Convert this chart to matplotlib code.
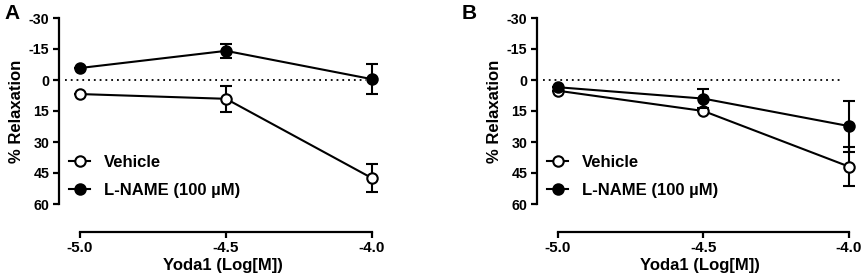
import matplotlib
matplotlib.use("Agg")
import matplotlib.pyplot as plt
from matplotlib.lines import Line2D
import numpy as np

plt.rcParams['font.family'] = ['Liberation Sans', 'DejaVu Sans']
plt.rcParams['font.weight'] = 'bold'
plt.rcParams['axes.unicode_minus'] = False

x = [-5.0, -4.5, -4.0]
xticklabels = ['-5.0', '-4.5', '-4.0']
yticks = [-30, -15, 0, 15, 30, 45, 60]
yticklabels = ['-30', '-15', '0', '15', '30', '45', '60']

# Panel A
a_vehicle = [6.8, 9.1, 47.5]
a_vehicle_err = [0.0, 6.3, 6.7]
a_lname = [-5.8, -14.1, -0.4]
a_lname_err = [0.0, 3.5, 7.3]

# Panel B
b_vehicle = [5.2, 15.0, 41.9]
b_vehicle_err = [0.0, 0.0, 9.5]
b_lname = [3.5, 9.0, 22.3]
b_lname_err = [0.0, 4.5, 12.3]

W, H = 865, 277
fig = plt.figure(figsize=(W / 100, H / 100), dpi=100)

def make_ax(left_px, unit_px, letter, letter_x):
    xl = (-5.072, -3.95)
    width_px = (xl[1] - xl[0]) * unit_px
    ax = fig.add_axes([left_px / W, 1 - 204 / H, width_px / W, (204 - 18) / H])
    ax.set_xlim(*xl)
    ax.set_ylim(60, -30)
    ax.spines['top'].set_visible(False)
    ax.spines['right'].set_visible(False)
    ax.spines['bottom'].set_position(('outward', 20))
    ax.spines['bottom'].set_bounds(-5.0, -4.0)
    ax.spines['left'].set_bounds(-30, 60)
    for s in ('left', 'bottom'):
        ax.spines[s].set_linewidth(1.6)
    ax.set_xticks(x)
    ax.set_xticklabels(xticklabels, fontweight='bold', fontsize=11)
    ax.set_yticks(yticks)
    ax.set_yticklabels(yticklabels, fontweight='bold', fontsize=10.3)
    ax.tick_params(width=1.6, length=4, pad=3)
    ax.set_xlabel('Yoda1 (Log[M])', fontsize=12, fontweight='bold', labelpad=2)
    ax.set_ylabel('% Relaxation', fontsize=12, fontweight='bold')
    ax.yaxis.set_label_coords(-35 / width_px, 0.5)
    ax.hlines(0, xl[0] + 0.02, -4.02, colors='black', linestyles=(0, (1, 2.2)), linewidth=1.3)
    fig.text(letter_x / W, 1 - 4 / H, letter, fontsize=15, fontweight='bold', va='top', ha='left')
    return ax

def draw(ax, veh, veh_err, ln, ln_err, leg_x):
    kw = dict(color='black', linewidth=1.5, markersize=7.5, capsize=4, elinewidth=1.5,
              capthick=1.5, markeredgewidth=1.5)
    ax.errorbar(x, veh, yerr=veh_err, marker='o', markerfacecolor='white',
                markeredgecolor='black', zorder=3, **kw)
    ax.errorbar(x, ln, yerr=ln_err, marker='o', markerfacecolor='black',
                markeredgecolor='black', zorder=4, **kw)
    handles = [
        Line2D([], [], color='black', linewidth=1.5, marker='o', markersize=7.5,
               markerfacecolor='white', markeredgecolor='black', markeredgewidth=1.5),
        Line2D([], [], color='black', linewidth=1.5, marker='o', markersize=7.5,
               markerfacecolor='black', markeredgecolor='black', markeredgewidth=1.5),
    ]
    labels = ['Vehicle', 'L-NAME (100 \u00b5M)']
    leg = ax.legend(handles, labels, loc='upper left', bbox_to_anchor=(leg_x, 0.262), frameon=False,
                    fontsize=12, handlelength=1.3, handletextpad=0.8, labelspacing=0.78,
                    borderaxespad=0, borderpad=0)
    for t in leg.get_texts():
        t.set_fontweight('bold')

axA = make_ax(59, 292, 'A', 4)
draw(axA, a_vehicle, a_vehicle_err, a_lname, a_lname_err, 0.03)
axB = make_ax(537, 291, 'B', 462)
draw(axB, b_vehicle, b_vehicle_err, b_lname, b_lname_err, 0.03)

fig.savefig('out.png', dpi=100)
